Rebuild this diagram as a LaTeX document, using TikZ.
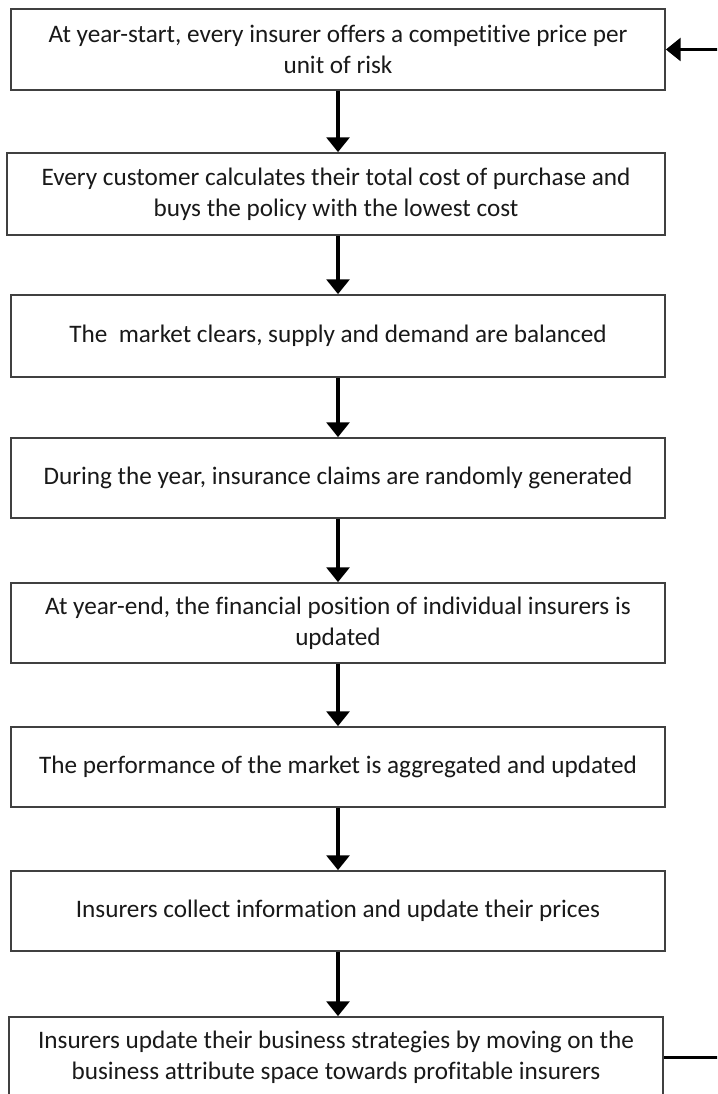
\documentclass[tikz,border=0pt]{standalone}
\usepackage{fontspec}
\setmainfont{Carlito}[Ligatures={NoCommon}]
\usetikzlibrary{arrows.meta}
\definecolor{boxline}{HTML}{404040}
\begin{document}
\begin{tikzpicture}[x=0.75pt,y=-0.75pt,
  stage/.style={draw=boxline, line width=1.3pt, fill=white, align=center,
    font=\fontsize{18.9}{23.25}\selectfont, text=black!90, inner sep=0pt},
  flow/.style={line width=2.4pt, -{Triangle[length=11pt,width=17pt]}}]
\useasboundingbox (0,0) rectangle (717,1094);
\clip (0,0) rectangle (717,1094);
\fill[white] (0,0) rectangle (717,1094);

\node[stage, minimum width=654*0.75pt, minimum height=81*0.75pt] (b1) at (338,49.5)
  {At year-start, every insurer offers a competitive price per\\unit of risk};
\node[stage, minimum width=658*0.75pt, minimum height=82*0.75pt] (b2) at (336,194)
  {Every customer calculates their total cost of purchase and\\buys the policy with the lowest cost};
\node[stage, minimum width=654*0.75pt, minimum height=82*0.75pt] (b3) at (338,336)
  {The\ \ market clears, supply and demand are balanced};
\node[stage, minimum width=654*0.75pt, minimum height=80*0.75pt] (b4) at (338,478)
  {During the year, insurance claims are randomly generated};
\node[stage, minimum width=654*0.75pt, minimum height=80*0.75pt] (b5) at (338,623)
  {At year-end, the financial position of individual insurers is\\updated};
\node[stage, minimum width=654*0.75pt, minimum height=80*0.75pt] (b6) at (338,767)
  {The performance of the market is aggregated and updated};
\node[stage, minimum width=654*0.75pt, minimum height=80*0.75pt] (b7) at (338,911)
  {Insurers collect information and update their prices};
\node[stage, minimum width=654*0.75pt, minimum height=81*0.75pt] (b8) at (336,1057.5)
  {Insurers update their business strategies by moving on the\\business attribute space towards profitable insurers};

\draw[flow] (b1.south) -- (b1.south |- b2.north);
\draw[flow] (b2.south -| b1.south) -- (b3.north);
\draw[flow] (b3.south) -- (b4.north);
\draw[flow] (b4.south) -- (b5.north);
\draw[flow] (b5.south) -- (b6.north);
\draw[flow] (b6.south) -- (b7.north);
\draw[flow] (b7.south) -- (b7.south |- b8.north);

% feedback loop: leaves the last stage to the right and returns to the first
\coordinate (loopbot) at (750,1057.5);
\coordinate (looptop) at (750,49.5);
\draw[flow] (b8.east) -- (loopbot) -- (looptop) -- (b1.east);
\end{tikzpicture}
\end{document}
